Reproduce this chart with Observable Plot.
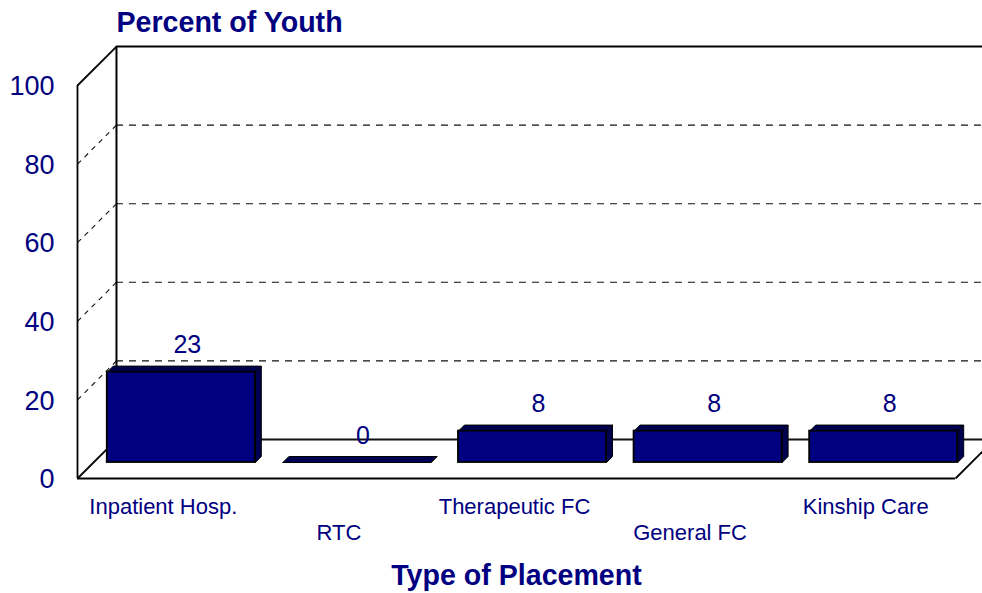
<!DOCTYPE html>
<html>
<head>
<meta charset="utf-8">
<style>html,body{margin:0;padding:0;background:#fff}svg{display:block}</style>
<script src="https://cdn.jsdelivr.net/npm/d3@7"></script>
<script src="https://cdn.jsdelivr.net/npm/@observablehq/plot@0.6"></script>
</head>
<body>
<div id="chart"></div>
<script>
const categories = ["Inpatient Hosp.", "RTC", "Therapeutic FC", "General FC", "Kinship Care"];
const values = [23, 0, 8, 8, 8];
const yTicks = [0, 20, 40, 60, 80, 100];
const gridValues = [20, 40, 60, 80];
const titleText = "Percent of Youth";
const xTitleText = "Type of Placement";

const NAVY = "#000080", DARK = "#000050", INK = "#000";
const depthX = 0.222, depthY = 9.92;       // full chart depth, in x slots and y percent
const barDepth0 = 0.41, barDepth1 = 0.564; // where the bars sit within that depth
const barWidth = 0.843;

const px = (x, z) => x + z * depthX;
const py = (v, z) => v + z * depthY;

const bars = categories.map((name, i) => ({
  name, value: values[i], i,
  left: i + 0.5 - barWidth / 2,
  right: i + 0.5 + barWidth / 2
}));

const topFaces = bars.flatMap(b => [
  [b.left, b.value, barDepth0], [b.right, b.value, barDepth0],
  [b.right, b.value, barDepth1], [b.left, b.value, barDepth1],
  [b.left, b.value, barDepth0]
].map(([x, v, z]) => ({name: b.name, x: px(x, z), y: py(v, z)})));

const sideFaces = bars.flatMap(b => [
  [b.right, 0, barDepth0], [b.right, b.value, barDepth0],
  [b.right, b.value, barDepth1], [b.right, 0, barDepth1],
  [b.right, 0, barDepth0]
].map(([x, v, z]) => ({name: b.name, x: px(x, z), y: py(v, z)})));

const line = {stroke: INK, strokeWidth: 1.8};
const dashed = {stroke: "#111", strokeWidth: 1.1, strokeDasharray: "7,6"};

const chart = Plot.plot({
  width: 982,
  height: 593,
  marginLeft: 77,
  marginRight: 27,
  marginTop: 85,
  marginBottom: 115,
  x: {domain: [0, 5], axis: null},
  y: {domain: [0, 100]},
  style: {fontFamily: "'Liberation Sans', Arial, sans-serif", background: "#fff", overflow: "hidden"},
  marks: [
    // back wall gridlines and their diagonals on the side wall
    Plot.ruleY(gridValues, {y: d => py(d, 1), x1: px(0, 1), x2: px(5, 1), ...dashed}),
    Plot.link(gridValues, {x1: 0, y1: d => d, x2: px(0, 1), y2: d => py(d, 1), stroke: "#111", strokeWidth: 1.1, strokeDasharray: "5,5"}),
    // walls
    Plot.ruleY([100], {y: d => py(d, 1), x1: px(0, 1), x2: px(5, 1), ...line}),
    Plot.ruleY([0], {y: d => py(d, 1), x1: px(0, 1), x2: px(5, 1), stroke: "#111", strokeWidth: 1.8}),
    Plot.ruleY([0], {x1: 0, x2: 5, ...line}),
    Plot.ruleX([0], {y1: 0, y2: 100, ...line}),
    Plot.ruleX([0], {x: d => px(d, 1), y1: py(0, 1), y2: py(100, 1), ...line, strokeWidth: 2}),
    Plot.link([0, 100], {x1: 0, y1: d => d, x2: px(0, 1), y2: d => py(d, 1), ...line}),
    Plot.link([5], {x1: d => d, y1: 0, x2: d => px(d, 1), y2: py(0, 1), ...line}),
    // bars
    Plot.line(topFaces, {x: "x", y: "y", z: "name", fill: DARK, stroke: INK, strokeWidth: 1}),
    Plot.line(sideFaces, {x: "x", y: "y", z: "name", fill: DARK, stroke: INK, strokeWidth: 1}),
    Plot.rect(bars, {
      x1: b => px(b.left, barDepth0), x2: b => px(b.right, barDepth0),
      y1: py(0, barDepth0), y2: b => py(b.value, barDepth0),
      fill: NAVY, stroke: INK, strokeWidth: 1.8
    }),
    // value labels
    Plot.text(bars, {
      x: b => px(b.i + 0.5, barDepth1), y: b => py(b.value, barDepth1), text: b => String(b.value),
      dy: -21, fontSize: 25, fill: NAVY
    }),
    // staggered category labels
    Plot.text(bars.filter(b => b.i % 2 === 0), {
      x: b => b.i + 0.5, y: 0, text: "name",
      dx: -2, dy: 28, fontSize: 22, fill: NAVY
    }),
    Plot.text(bars.filter(b => b.i % 2 === 1), {
      x: b => b.i + 0.5, y: 0, text: "name",
      dx: -2, dy: 54, fontSize: 22, fill: NAVY
    }),
    // y axis
    Plot.axisY({ticks: yTicks, tickSize: 0, tickPadding: 23, label: null, fontSize: 27, fill: NAVY, dy: 1}),
    // titles
    Plot.text([titleText], {
      x: px(0, 1), y: py(100, 1), text: d => d,
      dy: -24, textAnchor: "start", fontSize: 28.6, fontWeight: "bold", fill: NAVY
    }),
    Plot.text([xTitleText], {
      x: 2.5, y: 0, text: d => d,
      dy: 97, fontSize: 28.6, fontWeight: "bold", fill: NAVY
    })
  ]
});
document.getElementById("chart").appendChild(chart);
</script>
</body>
</html>
